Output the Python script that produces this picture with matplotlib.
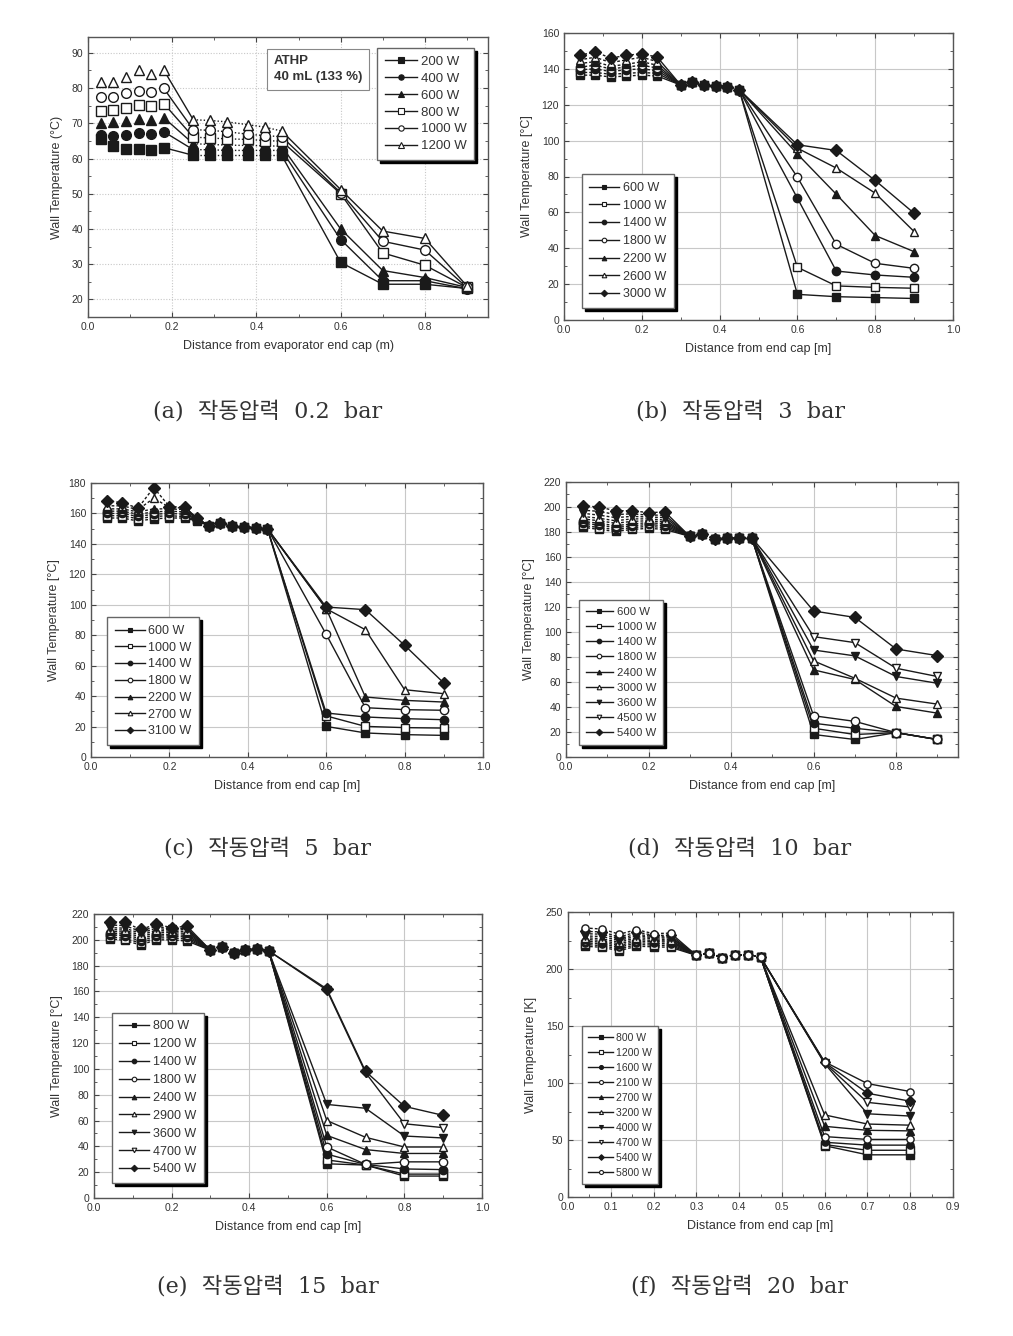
import matplotlib
matplotlib.use("Agg")
import matplotlib.pyplot as plt
from matplotlib.lines import Line2D
from matplotlib.ticker import MultipleLocator, AutoMinorLocator

plt.rcParams['font.family'] = ['Liberation Sans', 'DejaVu Sans']

# ---------------- data ----------------
# (a) 0.2 bar
a_x = [0.03, 0.06, 0.09, 0.12, 0.15, 0.18, 0.25, 0.29, 0.33, 0.38, 0.42, 0.46, 0.6, 0.7, 0.8, 0.9]
a_labels = ['200 W', '400 W', '600 W', '800 W', '1000 W', '1200 W']
a_200 = [65.4, 63.5, 62.8, 62.8, 62.5, 63.1, 60.9, 60.9, 60.9, 60.9, 60.9, 60.9, 30.5, 24.3, 24.3, 23.1]
a_400 = [66.6, 66.3, 66.6, 67.3, 66.9, 67.6, 62.5, 62.5, 62.3, 62.3, 62.3, 62.3, 37.0, 25.3, 25.3, 23.0]
a_600 = [70.1, 70.3, 70.7, 71.3, 70.9, 71.6, 64.2, 64.0, 63.8, 63.7, 63.6, 63.5, 40.0, 28.2, 26.2, 23.4]
a_800 = [73.5, 73.9, 74.4, 75.1, 74.9, 75.6, 66.1, 65.8, 65.6, 65.4, 65.1, 64.9, 50.0, 33.2, 29.7, 23.4]
a_1000 = [77.5, 77.5, 78.5, 79.2, 78.8, 79.9, 68.2, 68.0, 67.6, 66.9, 66.5, 66.2, 50.3, 36.5, 34.0, 23.4]
a_1200 = [81.8, 81.8, 83.2, 85.1, 84.0, 85.1, 71.0, 70.8, 70.4, 69.6, 68.9, 67.8, 51.2, 39.4, 37.3, 23.8]

# (b) 3 bar
b_x = [0.04, 0.08, 0.12, 0.16, 0.20, 0.24, 0.30, 0.33, 0.36, 0.39, 0.42, 0.45, 0.6, 0.7, 0.8, 0.9]
b_labels = ['600 W', '1000 W', '1400 W', '1800 W', '2200 W', '2600 W', '3000 W']
b_left = [[136.5, 136.5, 135.5, 136.0, 136.5, 136.0],
          [138.0, 138.0, 137.0, 137.5, 138.0, 137.5],
          [139.5, 140.0, 138.5, 139.5, 140.0, 139.0],
          [141.0, 142.0, 140.0, 141.0, 142.0, 140.5],
          [143.0, 144.0, 141.5, 142.5, 144.0, 142.0],
          [145.0, 146.5, 143.5, 145.0, 146.5, 144.0],
          [147.5, 149.5, 146.0, 147.5, 148.5, 146.5]]
b_mid = [131.0, 132.5, 131.0, 130.5, 130.0, 128.5]
b_right = [[14.3, 13.0, 12.5, 12.0],
           [29.4, 19.0, 18.2, 17.7],
           [67.9, 27.3, 25.1, 23.8],
           [79.6, 42.2, 31.6, 28.8],
           [92.5, 70.1, 47.1, 38.1],
           [95.8, 84.7, 70.7, 49.3],
           [97.7, 94.5, 77.8, 59.5]]

# (c) 5 bar
c_x = [0.04, 0.08, 0.12, 0.16, 0.20, 0.24, 0.27, 0.30, 0.33, 0.36, 0.39, 0.42, 0.45, 0.6, 0.7, 0.8, 0.9]
c_labels = ['600 W', '1000 W', '1400 W', '1800 W', '2200 W', '2700 W', '3100 W']
c_left = [[157.0, 157.0, 155.0, 156.5, 157.0, 157.0, 155.0],
          [158.5, 158.5, 156.5, 158.0, 158.5, 158.0, 155.5],
          [160.0, 160.0, 158.0, 159.5, 160.0, 159.5, 156.0],
          [161.5, 161.5, 159.5, 161.0, 161.5, 161.0, 156.0],
          [163.0, 163.0, 161.0, 163.0, 163.0, 162.5, 156.5],
          [165.0, 165.0, 162.5, 170.0, 164.0, 163.5, 157.0],
          [168.5, 167.0, 163.5, 177.0, 164.5, 164.0, 157.0]]
c_mid = [152.0, 153.5, 152.0, 151.0, 150.5, 150.0]
c_right = [[20.1, 15.8, 14.7, 14.2],
           [27.0, 20.1, 19.3, 19.0],
           [28.9, 26.3, 25.2, 24.5],
           [80.6, 32.4, 31.1, 30.7],
           [97.4, 39.4, 37.2, 36.1],
           [97.4, 83.6, 44.2, 41.6],
           [98.5, 96.8, 73.4, 48.6]]

# (d) 10 bar
d_x = b_x
d_labels = ['600 W', '1000 W', '1400 W', '1800 W', '2400 W', '3000 W', '3600 W', '4500 W', '5400 W']
d_left = [[184.0, 182.0, 180.5, 182.0, 183.0, 182.0],
          [185.5, 183.5, 182.0, 183.5, 184.5, 183.5],
          [187.0, 185.5, 183.5, 185.0, 186.0, 185.0],
          [188.5, 187.0, 185.0, 186.5, 187.5, 186.5],
          [190.5, 189.0, 187.0, 188.5, 189.0, 188.0],
          [192.5, 191.0, 189.0, 190.5, 190.5, 189.5],
          [195.0, 193.5, 191.5, 192.5, 192.0, 191.5],
          [197.5, 196.5, 194.0, 194.5, 193.5, 193.5],
          [201.0, 200.0, 197.0, 197.0, 195.5, 196.0]]
d_mid = [176.5, 178.5, 174.5, 175.0, 175.5, 175.5]
d_right = [[18.0, 14.0, 19.5, 14.0],
           [23.0, 18.0, 19.5, 14.0],
           [27.0, 23.0, 19.5, 14.0],
           [33.0, 28.5, 19.5, 14.0],
           [69.7, 62.0, 40.4, 35.1],
           [76.9, 63.0, 47.1, 42.3],
           [85.6, 80.9, 64.4, 59.0],
           [96.3, 91.5, 71.0, 64.4],
           [116.8, 111.7, 86.4, 81.1]]

# (e) 15 bar
e_x = b_x
e_labels = ['800 W', '1200 W', '1400 W', '1800 W', '2400 W', '2900 W', '3600 W', '4700 W', '5400 W']
e_left = [[201.0, 199.5, 196.0, 200.0, 200.0, 199.0],
          [202.5, 201.0, 197.5, 201.5, 201.5, 200.5],
          [204.0, 203.0, 199.0, 203.0, 203.0, 202.0],
          [205.0, 204.5, 200.5, 204.5, 204.0, 203.5],
          [206.5, 206.0, 202.0, 206.0, 205.5, 205.0],
          [208.0, 207.5, 203.5, 207.5, 206.5, 206.5],
          [209.5, 209.0, 205.0, 209.0, 207.5, 208.0],
          [211.5, 211.0, 206.5, 210.5, 208.5, 209.0],
          [214.0, 213.5, 208.0, 212.0, 209.5, 210.5]]
e_mid = [192.0, 194.5, 190.0, 192.5, 193.0, 191.5]
e_right = [[26.5, 25.5, 17.0, 17.0],
           [29.5, 25.5, 18.5, 18.5],
           [34.0, 26.0, 22.5, 22.0],
           [39.5, 26.0, 28.0, 28.0],
           [48.5, 37.5, 34.5, 34.5],
           [60.0, 47.0, 39.5, 39.5],
           [72.5, 69.5, 48.0, 46.5],
           [161.0, 97.0, 57.5, 54.5],
           [162.0, 98.0, 71.0, 64.0]]

# (f) 20 bar
f_x = [0.04, 0.08, 0.12, 0.16, 0.20, 0.24, 0.30, 0.33, 0.36, 0.39, 0.42, 0.45, 0.6, 0.7, 0.8]
f_labels = ['800 W', '1200 W', '1600 W', '2100 W', '2700 W', '3200 W', '4000 W', '4700 W', '5400 W', '5800 W']
f_left = [[220.0, 219.0, 216.0, 220.0, 219.5, 219.0],
          [221.5, 220.5, 217.5, 221.5, 221.0, 220.5],
          [223.0, 222.0, 219.0, 223.0, 222.5, 222.0],
          [224.5, 223.5, 220.5, 224.5, 224.0, 223.5],
          [226.0, 225.0, 222.0, 226.0, 225.0, 224.5],
          [227.5, 226.5, 223.5, 227.5, 226.5, 225.5],
          [229.0, 228.5, 225.0, 229.0, 227.5, 227.0],
          [231.0, 230.5, 226.5, 230.5, 228.5, 228.0],
          [233.0, 232.5, 228.0, 232.5, 229.5, 229.5],
          [236.0, 235.0, 230.5, 234.5, 231.0, 231.5]]
f_mid = [212.0, 214.0, 210.0, 212.0, 212.5, 210.5]
f_right = [[45.0, 37.0, 37.0],
           [46.0, 41.0, 41.0],
           [48.0, 45.5, 45.5],
           [53.0, 50.5, 50.5],
           [62.0, 58.5, 58.0],
           [72.0, 64.0, 63.0],
           [117.0, 73.0, 71.0],
           [117.5, 83.0, 79.0],
           [118.0, 91.0, 84.0],
           [118.5, 99.5, 92.5]]

# ---------------- styling ----------------
LINE = '#1a1a1a'
TXT = '#333333'
MARKERS = {'sq': ('s', True), 'osq': ('s', False), 'ci': ('o', True), 'oci': ('o', False),
           'tri': ('^', True), 'otri': ('^', False), 'dtri': ('v', True), 'odtri': ('v', False),
           'dia': ('D', True)}
DASH = (0, (2, 1.5))
DOT = (0, (1, 1.5))

W, H = 1013, 1336
fig = plt.figure(figsize=(W / 100, H / 100), dpi=100)


def add_ax(l, r, t, b):
    return fig.add_axes([l / W, 1 - b / H, (r - l) / W, (b - t) / H])


def setup(ax, xmax, ylim, xstep, ystep, ylabel, xlabel, gls='-'):
    ax.set_xlim(0, xmax)
    ax.set_ylim(*ylim)
    ax.xaxis.set_major_locator(MultipleLocator(xstep))
    ax.yaxis.set_major_locator(MultipleLocator(ystep))
    ax.xaxis.set_minor_locator(AutoMinorLocator(2))
    ax.yaxis.set_minor_locator(AutoMinorLocator(2))
    ax.tick_params(which='both', direction='in', top=True, right=True,
                   labelsize=7.5, labelcolor=TXT, color='#444444')
    ax.tick_params(which='major', length=3.5)
    ax.tick_params(which='minor', length=2)
    ax.grid(True, which='major', color='#c8c8c8', lw=0.8, ls=gls)
    ax.set_axisbelow(True)
    for s in ax.spines.values():
        s.set_color('#555555')
        s.set_linewidth(1.0)
    ax.set_ylabel(ylabel, fontsize=9, color=TXT, labelpad=6)
    ax.set_xlabel(xlabel, fontsize=9, color=TXT, labelpad=6)


def draw(ax, x, y, style, segs, ms):
    mk, filled = MARKERS[style]
    fc = LINE if filled else 'white'
    for i0, i1, ls in segs:
        ax.plot(x[i0:i1], y[i0:i1], color=LINE, lw=1.0, ls=ls, zorder=2)
    ax.plot(x, y, ls='none', marker=mk, ms=ms, mec=LINE, mfc=fc, mew=1.0, zorder=3)
    return Line2D([], [], color=LINE, lw=1.0, marker=mk, ms=ms, mec=LINE, mfc=fc, mew=0.8)


def legend(ax, handles, labels, anchor, loc, fs, spacing, hl=2.4):
    ax.legend(handles, labels, loc=loc, bbox_to_anchor=anchor, borderaxespad=0,
              fancybox=False, shadow={'color': 'black', 'alpha': 1}, edgecolor='#666666',
              framealpha=1, fontsize=fs, handlelength=hl, handletextpad=0.3,
              labelspacing=spacing, borderpad=0.6, markerscale=0.55, labelcolor=TXT)


def caption(x, y, text):
    fig.text(x / W, 1 - y / H, text, ha='center', va='center', fontsize=16, color=TXT,
             family=['DejaVu Serif', 'Noto Sans CJK KR'])


xlab = 'Distance from end cap [m]'

# (a)
ax = add_ax(88, 488, 37, 317)
setup(ax, 0.95, (15, 94.5), 0.2, 10, 'Wall Temperature (\u00b0C)',
      'Distance from evaporator end cap (m)', gls=DOT)
segs = [(5, 7, '-'), (6, 12, DOT), (11, 16, '-')]
hs = []
for y, st in zip([a_200, a_400, a_600, a_800, a_1000, a_1200],
                 ['sq', 'ci', 'tri', 'osq', 'oci', 'otri']):
    hs.append(draw(ax, a_x, y, st, segs, 7))
legend(ax, hs, a_labels, (0.7225, 0.961), 'upper left', 9.5, 0.35)
ax.text(0.465, 0.935, 'ATHP\n40 mL (133 %)', transform=ax.transAxes, ha='left', va='top',
        fontsize=9.5, fontweight='bold', color=TXT, linespacing=1.45,
        bbox=dict(boxstyle='square,pad=0.5', fc='white', ec='#888888', lw=0.8))
caption(268, 411, '(a)  작동압력  0.2  bar')


def panel(rect, x, labels, left, mid, right, styles, segs, xmax, ylim, xstep, ystep,
          ylabel, anchor, fs, spacing, ms, cap, cxy):
    ax = add_ax(*rect)
    setup(ax, xmax, ylim, xstep, ystep, ylabel, xlab)
    hs = []
    for lo, ro, st in zip(left, right, styles):
        hs.append(draw(ax, x, lo + mid + ro, st, segs, ms))
    legend(ax, hs, labels, anchor, 'lower left', fs, spacing)
    caption(cxy[0], cxy[1], cap)


segs16 = [(0, 6, DASH), (5, 7, '-'), (6, 12, DOT), (11, 16, '-')]
segs17 = [(0, 6, DASH), (5, 8, '-'), (7, 13, DOT), (12, 17, '-')]
segs15 = [(0, 6, DASH), (5, 7, '-'), (6, 12, DOT), (11, 15, '-')]

panel((564, 953, 33, 320), b_x, b_labels, b_left, b_mid, b_right,
      ['sq', 'osq', 'ci', 'oci', 'tri', 'otri', 'dia'], segs16, 1.0, (0, 160), 0.2, 20,
      'Wall Temperature [\u00b0C]', (0.046, 0.042), 9, 0.46, 6,
      '(b)  작동압력  3  bar', (740, 411))

panel((91, 483, 483, 757), c_x, c_labels, c_left, c_mid, c_right,
      ['sq', 'osq', 'ci', 'oci', 'tri', 'otri', 'dia'], segs17, 1.0, (0, 180), 0.2, 20,
      'Wall Temperature [\u00b0C]', (0.041, 0.044), 9, 0.38, 6,
      '(c)  작동압력  5  bar', (268, 849))

panel((566, 958, 482, 757), d_x, d_labels, d_left, d_mid, d_right,
      ['sq', 'osq', 'ci', 'oci', 'tri', 'otri', 'dtri', 'odtri', 'dia'], segs16, 0.95, (0, 220),
      0.2, 20, 'Wall Temperature [\u00b0C]', (0.033, 0.044), 8.2, 0.45, 6,
      '(d)  작동압력  10  bar', (740, 849))

panel((94, 482, 914, 1198), e_x, e_labels, e_left, e_mid, e_right,
      ['sq', 'osq', 'ci', 'oci', 'tri', 'otri', 'dtri', 'odtri', 'dia'], segs16, 1.0, (0, 220),
      0.2, 20, 'Wall Temperature [\u00b0C]', (0.046, 0.053), 9, 0.47, 6,
      '(e)  작동압력  15  bar', (268, 1287))

panel((568, 953, 912, 1197), f_x, f_labels, f_left, f_mid, f_right,
      ['sq', 'osq', 'ci', 'oci', 'tri', 'otri', 'dtri', 'odtri', 'dia', 'oci'], segs15, 0.9,
      (0, 250), 0.1, 50, 'Wall Temperature [K]', (0.036, 0.046), 7.5, 0.48, 5.2,
      '(f)  작동압력  20  bar', (739, 1287))

fig.savefig('out.png', dpi=100)
